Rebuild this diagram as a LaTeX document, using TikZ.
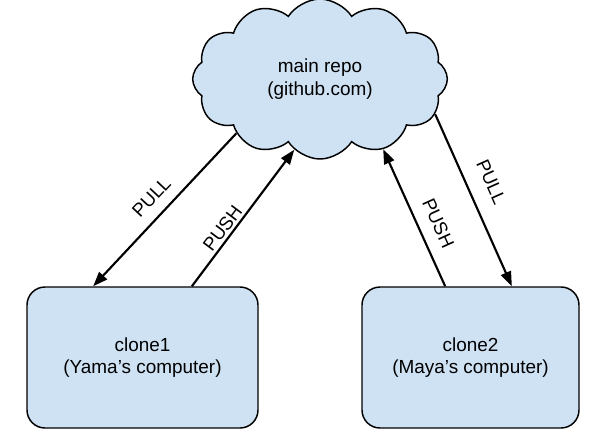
\documentclass[tikz,border=0pt]{standalone}
\usepackage{fontspec}
\setmainfont{Liberation Sans}
\usetikzlibrary{arrows.meta,shapes.symbols}
\definecolor{repoblue}{HTML}{CFE2F3}
\tikzset{
  repo/.style={cloud, cloud puffs=12, cloud puff arc=115, aspect=1.6,
    draw=black, line width=1.1pt, fill=repoblue, align=center,
    minimum width=191pt, minimum height=120pt, font=\fontsize{14.2}{17}\selectfont},
  clonebox/.style={draw=black, line width=1.1pt, fill=repoblue, rounded corners=13.5pt,
    align=center, minimum height=105.75pt, font=\fontsize{14.2}{17}\selectfont},
  flow/.style={line width=1.6pt, -{Triangle[length=11pt,width=8pt]}},
  tag/.style={sloped, above, inner sep=1pt, font=\fontsize{14}{16}\selectfont}
}

\begin{document}
\begin{tikzpicture}[x=0.75pt,y=-0.75pt]
		%%%%% START %%%%%
		\useasboundingbox (0,0) rectangle (606,444);
		
		\node[repo] (repo) at (320,79) {main repo\\(github.com)};
		
		\node[clonebox, minimum width=173.25pt] (clone1) at (142.5,357.5) {clone1\\(Yama’s computer)};
		\node[clonebox, minimum width=162.75pt] (clone2) at (470.5,357.5) {clone2\\(Maya’s computer)};
		
		% Yama
		\draw[flow] (repo.213) -- node[tag, pos=0.5, yshift=7pt] {PULL} ([xshift=-37pt]clone1.north);
		\draw[flow] ([xshift=37pt]clone1.north) -- node[tag, pos=0.38, yshift=1pt] {PUSH} (repo.250);
		
		% Maya
		\draw[flow] ([xshift=-19pt]clone2.north) -- node[tag, pos=0.4, yshift=8pt] {PUSH} (repo.312);
		\draw[flow] (repo.343) -- node[tag, pos=0.45, yshift=11pt] {PULL} ([xshift=31pt]clone2.north);
		
		%%%%% END %%%%%
	\end{tikzpicture}
\end{document}
